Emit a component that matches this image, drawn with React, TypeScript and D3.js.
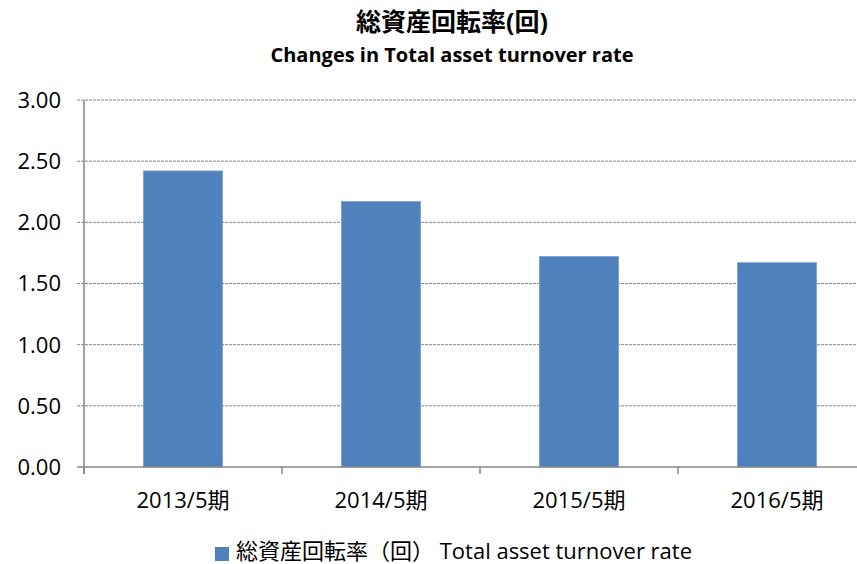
import { useEffect, useRef } from "react"
import * as d3 from "d3"

const categories = ["2013/5期", "2014/5期", "2015/5期", "2016/5期"]
const turnover = [2.42, 2.17, 1.72, 1.67]
const yTicks = [0, 0.5, 1, 1.5, 2, 2.5, 3]

const titleJa = "総資産回転率(回)"
const titleEn = "Changes in Total asset turnover rate"
const legendLabel = "総資産回転率（回） Total asset turnover rate"

const FONT = "'Open Sans', 'Noto Sans CJK JP', sans-serif"

export default function App() {
  const svgRef = useRef<SVGSVGElement>(null)

  useEffect(() => {
    if (!svgRef.current) return
    const width = 857
    const height = 564
    const margin = { top: 100, right: -19, bottom: 97, left: 84 }

    const svg = d3.select(svgRef.current)
    svg.selectAll("*").remove()
    svg.attr("width", width).attr("height", height).style("font-family", FONT)

    const x = d3
      .scaleBand<string>()
      .domain(categories)
      .range([margin.left, width - margin.right])
      .paddingInner(0.6)
      .paddingOuter(0.3)

    const y = d3
      .scaleLinear()
      .domain([0, 3])
      .range([height - margin.bottom, margin.top])

    // gridlines
    svg
      .append("g")
      .selectAll("line")
      .data(yTicks.filter((t) => t > 0))
      .enter()
      .append("line")
      .attr("x1", margin.left - 7)
      .attr("x2", width - margin.right)
      .attr("y1", (d) => y(d))
      .attr("y2", (d) => y(d))
      .style("stroke", "#868686")
      .style("stroke-width", 1)
      .style("stroke-dasharray", "3 1")

    // bars
    svg
      .append("g")
      .selectAll("rect")
      .data(turnover)
      .enter()
      .append("rect")
      .attr("x", (_, i) => x(categories[i])!)
      .attr("width", x.bandwidth())
      .attr("y", (d) => y(d))
      .attr("height", (d) => y(0) - y(d))
      .style("fill", "#4F81BD")
      .style("stroke", "#7BA0D4")
      .style("stroke-width", 0.8)

    // y axis line + labels
    svg
      .append("line")
      .attr("x1", margin.left)
      .attr("x2", margin.left)
      .attr("y1", y(3))
      .attr("y2", y(0) + 7)
      .style("stroke", "#868686")
      .style("stroke-width", 1.5)

    svg
      .append("g")
      .selectAll("text")
      .data(yTicks)
      .enter()
      .append("text")
      .attr("x", margin.left - 23)
      .attr("y", (d) => y(d))
      .attr("dy", "0.36em")
      .attr("text-anchor", "end")
      .style("font-size", "22px")
      .style("fill", "#000")
      .text((d) => d.toFixed(2))

    // x axis line + ticks
    svg
      .append("line")
      .attr("x1", margin.left - 7)
      .attr("x2", width - margin.right)
      .attr("y1", y(0))
      .attr("y2", y(0))
      .style("stroke", "#868686")
      .style("stroke-width", 1.5)

    const step = x.step()
    const boundaries = d3.range(categories.length + 1).map((i) => margin.left + i * step)
    svg
      .append("g")
      .selectAll("line")
      .data(boundaries)
      .enter()
      .append("line")
      .attr("x1", (d) => d)
      .attr("x2", (d) => d)
      .attr("y1", y(0))
      .attr("y2", y(0) + 7)
      .style("stroke", "#868686")
      .style("stroke-width", 1.5)

    svg
      .append("g")
      .selectAll("text")
      .data(categories)
      .enter()
      .append("text")
      .attr("x", (d) => x(d)! + x.bandwidth() / 2)
      .attr("y", y(0) + 41)
      .attr("text-anchor", "middle")
      .style("font-size", "22px")
      .style("fill", "#000")
      .text((d) => d)

    // titles
    svg
      .append("text")
      .attr("x", 452)
      .attr("y", 31)
      .attr("text-anchor", "middle")
      .style("font-size", "25px")
      .style("font-weight", "bold")
      .text(titleJa)

    svg
      .append("text")
      .attr("x", 452)
      .attr("y", 62)
      .attr("text-anchor", "middle")
      .style("font-size", "20px")
      .style("font-weight", "bold")
      .text(titleEn)

    // legend
    const legend = svg.append("g").attr("transform", "translate(215, 559)")
    legend
      .append("rect")
      .attr("x", 0)
      .attr("y", -12)
      .attr("width", 14)
      .attr("height", 14)
      .style("fill", "#4F81BD")
    legend
      .append("text")
      .attr("x", 21)
      .attr("y", 0)
      .style("font-size", "22px")
      .style("fill", "#000")
      .text(legendLabel)
  }, [])

  return (
    <div style={{ position: "absolute", left: 0, top: 0, overflow: "hidden", width: 857, height: 564 }}>
      <svg ref={svgRef} style={{ display: "block" }} />
    </div>
  )
}
